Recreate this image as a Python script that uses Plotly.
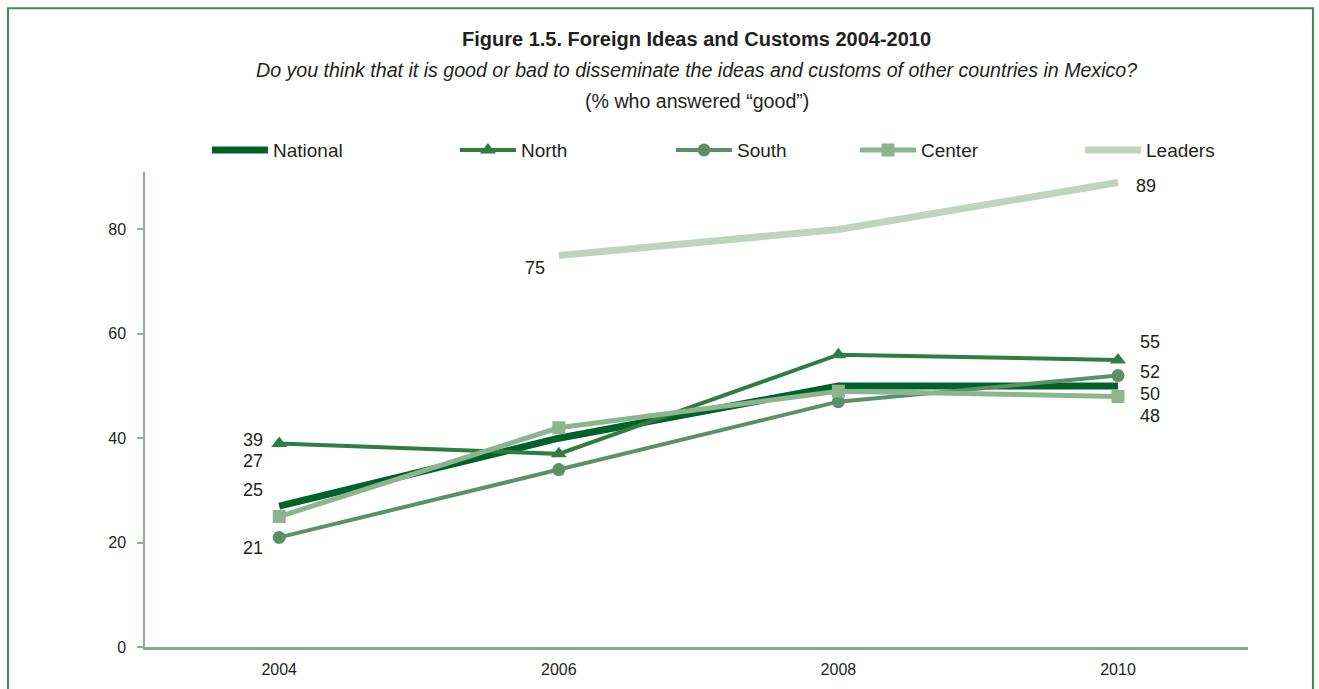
import plotly.graph_objects as go

# Survey waves and series (% who answered "good")
years = [2004, 2006, 2008, 2010]
national = [27, 40, 50, 50]
north = [39, 37, 56, 55]
south = [21, 34, 47, 52]
center = [25, 42, 49, 48]
leaders = [None, 75, 80, 89]

FONT = "Liberation Sans, Arial, sans-serif"
TEXT = "#231f20"

fig = go.Figure()

# Each series gets its own legend box so the entries can be spaced freely
fig.add_trace(go.Scatter(x=years, y=national, name="National", mode="lines",
                         line=dict(color="#00612a", width=7), legend="legend"))
fig.add_trace(go.Scatter(x=years, y=north, name="North", mode="lines+markers",
                         line=dict(color="#2f7d40", width=4),
                         marker=dict(symbol="triangle-up", size=14, color="#2f7d40"),
                         legend="legend2"))
fig.add_trace(go.Scatter(x=years, y=south, name="South", mode="lines+markers",
                         line=dict(color="#5a9167", width=4),
                         marker=dict(symbol="circle", size=13, color="#5a9167"),
                         legend="legend3"))
fig.add_trace(go.Scatter(x=years, y=center, name="Center", mode="lines+markers",
                         line=dict(color="#8cb48f", width=5),
                         marker=dict(symbol="square", size=13, color="#8cb48f"),
                         legend="legend4"))
fig.add_trace(go.Scatter(x=years, y=leaders, name="Leaders", mode="lines",
                         line=dict(color="#bcd5be", width=7), connectgaps=False,
                         legend="legend5"))

# Value labels at the series end points: (series, index, xshift, yshift, anchor)
labels = [
    (north, 0, -14, 3, "right"),
    (national, 0, -14, 45, "right"),
    (center, 0, -14, 27, "right"),
    (south, 0, -14, -11, "right"),
    (north, 3, 20, 18, "left"),
    (south, 3, 20, 4, "left"),
    (national, 3, 20, -8, "left"),
    (center, 3, 20, -20, "left"),
    (leaders, 1, -12, -12, "right"),
    (leaders, 3, 16, -4, "left"),
]
for series, i, xs, ys, anchor in labels:
    fig.add_annotation(x=years[i], y=series[i], xref="x", yref="y",
                       text=str(series[i]), showarrow=False,
                       xanchor=anchor, yanchor="middle", xshift=xs, yshift=ys,
                       font=dict(family=FONT, size=18, color=TEXT))

# Title block
fig.add_annotation(xref="paper", yref="paper", x=0.5, y=1.281,
                   text="<b>Figure 1.5. Foreign Ideas and Customs 2004-2010</b>",
                   showarrow=False, yanchor="middle",
                   font=dict(family=FONT, size=20, color=TEXT))
fig.add_annotation(xref="paper", yref="paper", x=0.5, y=1.214,
                   text="<i>Do you think that it is good or bad to disseminate the ideas and customs of other countries in Mexico?</i>",
                   showarrow=False, yanchor="middle",
                   font=dict(family=FONT, size=19.6, color=TEXT))
fig.add_annotation(xref="paper", yref="paper", x=0.5, y=1.149,
                   text="(% who answered “good”)",
                   showarrow=False, yanchor="middle",
                   font=dict(family=FONT, size=19.6, color=TEXT))

# Frame around the figure
fig.add_shape(type="rect", xref="paper", yref="paper", x0=-0.1242, x1=1.0589, y0=-0.2, y1=1.345,
              line=dict(color="#3d8c52", width=2))

legend_style = dict(orientation="h", y=1.046, xanchor="left", yanchor="middle",
                    itemwidth=56, bgcolor="rgba(0,0,0,0)",
                    font=dict(family=FONT, size=19, color=TEXT))

fig.update_layout(
    width=1319, height=689,
    margin=dict(l=145, r=71, t=172, b=42),
    plot_bgcolor="white", paper_bgcolor="white",
    font=dict(family=FONT, size=16, color=TEXT),
    showlegend=True,
    legend=dict(x=0.0562, **legend_style),
    legend2=dict(x=0.281, **legend_style),
    legend3=dict(x=0.4769, **legend_style),
    legend4=dict(x=0.6437, **legend_style),
    legend5=dict(x=0.8477, **legend_style),
    xaxis=dict(range=[2003.04, 2010.93], tickvals=years, showgrid=False, zeroline=False,
               showline=True, linecolor="#7fb08a", linewidth=3, ticks="",
               ticklabelstandoff=6,
               tickfont=dict(family=FONT, size=16, color=TEXT)),
    yaxis=dict(range=[0, 91], tickvals=[0, 20, 40, 60, 80], showgrid=False, zeroline=False,
               showline=True, linecolor="#8ab58d", linewidth=1.5, ticks="outside",
               ticklen=6, tickcolor="#8ab58d", tickwidth=1.5, ticklabelstandoff=8,
               tickfont=dict(family=FONT, size=16, color=TEXT)),
)

fig.write_html("out.html")
